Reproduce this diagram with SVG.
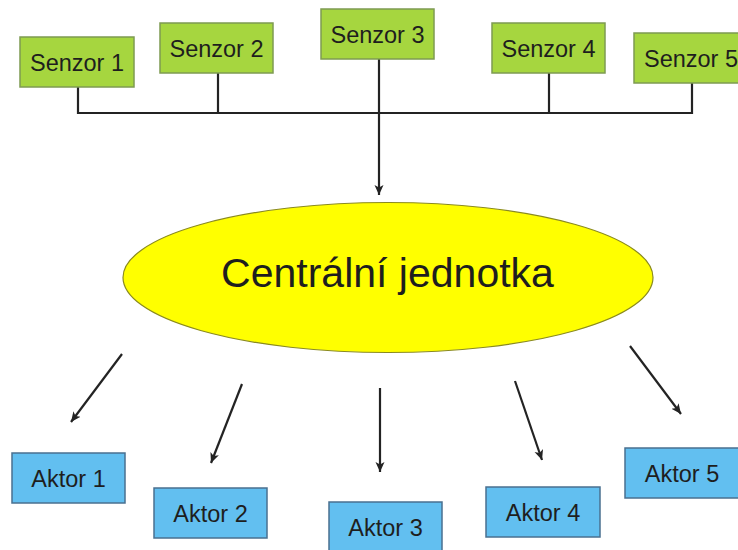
<svg xmlns="http://www.w3.org/2000/svg" width="738" height="550" viewBox="0 0 738 550">
<defs>
<style>
.s rect{fill:#a6d63f;stroke:#7e9b52;stroke-width:1.5}
.a rect{fill:#62bff0;stroke:#4a7090;stroke-width:1.5}
text{font-family:"Liberation Sans",Arial,sans-serif;fill:#1e1e1e;text-anchor:middle}
.s text,.a text{font-size:23.5px}
.c line,.c polyline{stroke:#232323;stroke-width:2.2;fill:none}
</style>
<marker id="ah" markerUnits="userSpaceOnUse" markerWidth="10" markerHeight="10" viewBox="0 0 10 10" refX="10" refY="5" orient="auto">
<path d="M0,0.5 L10,5 L0,9.5 L2.5,5 z" fill="#232323"/>
</marker>
</defs>
<rect width="738" height="550" fill="#ffffff"/>
<g id="connectors" class="c">
<polyline points="78,87 78,113 692,113 692,83"/>
<line x1="218" y1="73" x2="218" y2="113"/>
<line x1="549" y1="73" x2="549" y2="113"/>
<line x1="379" y1="59" x2="379" y2="195" marker-end="url(#ah)"/>
<line x1="122" y1="354" x2="71" y2="422" marker-end="url(#ah)"/>
<line x1="242" y1="384" x2="211" y2="463" marker-end="url(#ah)"/>
<line x1="380" y1="388" x2="380" y2="472" marker-end="url(#ah)"/>
<line x1="515" y1="381" x2="542" y2="460" marker-end="url(#ah)"/>
<line x1="630" y1="346" x2="681" y2="414" marker-end="url(#ah)"/>
</g>
<g id="senzor1" class="s"><rect x="20" y="37" width="114" height="50"/><text x="77" y="70.5">Senzor 1</text></g>
<g id="senzor2" class="s"><rect x="160" y="23" width="113" height="50"/><text x="216.5" y="56.5">Senzor 2</text></g>
<g id="senzor3" class="s"><rect x="321" y="9" width="113" height="50"/><text x="377.5" y="42.5">Senzor 3</text></g>
<g id="senzor4" class="s"><rect x="492" y="23" width="113" height="50"/><text x="548.5" y="56.5">Senzor 4</text></g>
<g id="senzor5" class="s"><rect x="634" y="33" width="114" height="50"/><text x="691" y="66.5">Senzor 5</text></g>
<g id="centralni">
<ellipse cx="388" cy="277.5" rx="265" ry="75" fill="#ffff00" stroke="#8a8a20" stroke-width="1.2"/>
<text x="387.5" y="287" font-size="41">Centrální jednotka</text>
</g>
<g id="aktor1" class="a"><rect x="12" y="453" width="113" height="50"/><text x="68.5" y="486.5">Aktor 1</text></g>
<g id="aktor2" class="a"><rect x="154" y="488" width="113" height="50"/><text x="210.5" y="521.5">Aktor 2</text></g>
<g id="aktor3" class="a"><rect x="329" y="502" width="113" height="50"/><text x="385.5" y="535.5">Aktor 3</text></g>
<g id="aktor4" class="a"><rect x="486" y="487" width="114" height="50"/><text x="543" y="520.5">Aktor 4</text></g>
<g id="aktor5" class="a"><rect x="625" y="448" width="114" height="50"/><text x="682" y="481.5">Aktor 5</text></g>
</svg>
